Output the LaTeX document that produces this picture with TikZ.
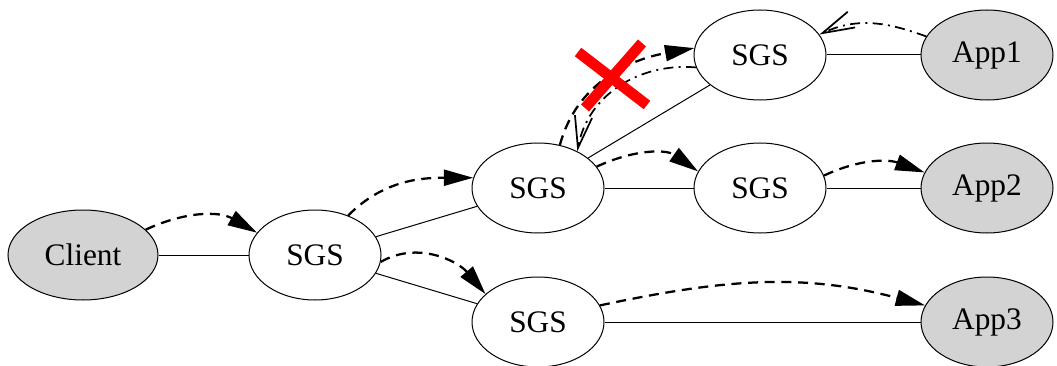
\documentclass[tikz,border=0pt]{standalone}
\usepackage{fontspec}
\setmainfont{Liberation Serif}
\usetikzlibrary{arrows.meta,shapes.geometric}
\definecolor{appgray}{RGB}{211,211,211}

\begin{document}
\begin{tikzpicture}[x=0.75pt,y=0.75pt,
  font=\fontsize{23.5}{28}\selectfont,
  sgs/.style={draw=black,ellipse,line width=0.75pt,minimum width=99pt,minimum height=67.5pt,inner sep=0pt},
  app/.style={sgs,fill=appgray},
  link/.style={line width=0.75pt},
  call/.style={line width=1.7pt,dash pattern=on 7.5pt off 5pt,-{Triangle[length=22pt,width=12pt]}},
  reply/.style={line width=1.3pt,dash pattern=on 7.5pt off 4pt on 1.5pt off 4pt,-{Straight Barb[length=24pt,width=13pt]}}]
\useasboundingbox (0,0) rectangle (1057,365);
% the nodes
\node[app,minimum width=112.5pt] (client) at (83,110) {Client};
\node[sgs] (s0) at (315,110) {SGS};
\node[sgs] (s1) at (538,177) {SGS};
\node[sgs] (s2) at (760,310) {SGS};
\node[sgs] (s3) at (760,177) {SGS};
\node[sgs] (s4) at (538,43) {SGS};
\node[app] (app1) at (987,310) {App1};
\node[app] (app2) at (987,177) {App2};
\node[app] (app3) at (987,43) {App3};
% the links
\draw[link] (client) -- (s0);
\draw[link] (s0) -- (s1);
\draw[link] (s0) -- (s4);
\draw[link] (s1) -- (s2);
\draw[link] (s1) -- (s3);
\draw[link] (s2) -- (app1);
\draw[link] (s3) -- (app2);
\draw[link] (s4) -- (app3);
% the calls
\draw[call] (client.22) to[out=25,in=150] (s0.159);
\draw[call] (s0.50) to[out=45,in=180] (s1.171);
\draw[call] (s0.-6) to[out=30,in=130] (s4.152);
\draw[call] (s1.20) to[out=25,in=145] (s3.165);
\draw[call] (s3.11) to[out=25,in=160] (app2.166);
\draw[call] (s4.15) to[out=12,in=165] (app3.165);
\draw[call] (s1.63) to[out=75,in=190] (s2.174);
% the replies
\draw[reply] (app1.163) to[out=160,in=25] (s2.19);
\draw[reply] (s2.191) to[out=175,in=80] (s1.43);
% the cut
\draw[red,line width=8pt] (578,313) -- (647,260);
\draw[red,line width=8pt] (642,322) -- (585,257);
\end{tikzpicture}
\end{document}
